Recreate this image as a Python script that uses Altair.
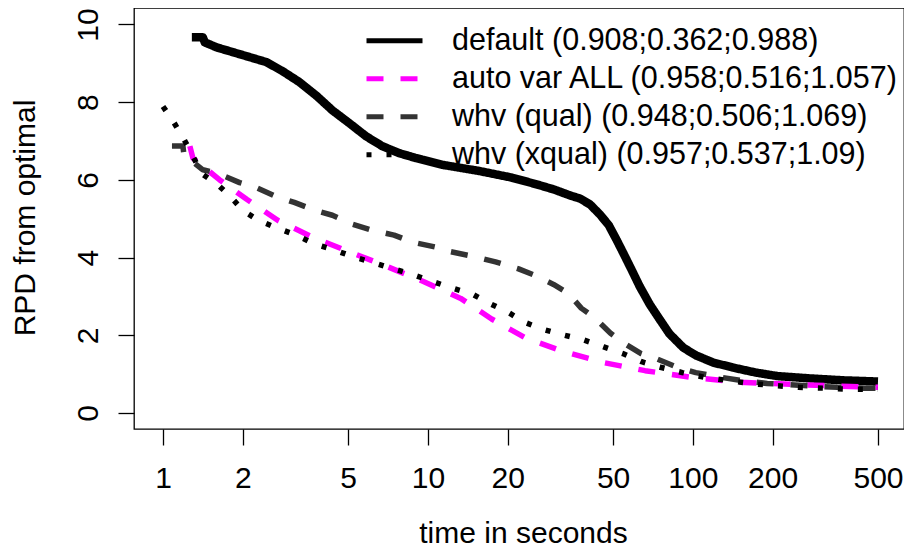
import altair as alt
import pandas as pd

series_names = [
    "default (0.908;0.362;0.988)",
    "auto var ALL (0.958;0.516;1.057)",
    "whv (qual) (0.948;0.506;1.069)",
    "whv (xqual) (0.957;0.537;1.09)",
]
series_colors = ["#000000", "#FF00FF", "#333333", "#000000"]
series_dashes = [[1, 0], [17, 17], [17, 17], [5, 15]]

default_t = [1.285, 1.414, 1.438, 1.596, 2.124, 2.46, 2.825, 3.27, 3.79, 4.36, 5.05, 5.85,
             6.72, 7.78, 9.02, 11.3, 15.6, 20.7, 25.9, 30.0, 34.4, 37.5, 40.9, 44.6, 48.2,
             51.6, 54.8, 58.7, 63.0, 68.7, 74.8, 81.6, 92.1, 103.0, 119.2, 141.6, 173.0,
             208.8, 277.7, 372.5, 500]
default_v = [9.67, 9.67, 9.54, 9.41, 9.16, 9.03, 8.80, 8.52, 8.17, 7.79, 7.46, 7.12,
             6.87, 6.69, 6.56, 6.39, 6.23, 6.06, 5.88, 5.75, 5.60, 5.52, 5.37, 5.11, 4.83,
             4.45, 4.10, 3.69, 3.26, 2.80, 2.42, 2.04, 1.68, 1.48, 1.30, 1.17, 1.04,
             0.95, 0.89, 0.84, 0.81]

auto_t = [1.263, 1.297, 1.637, 2.07, 2.71, 3.66, 5.05, 7.01, 9.66, 13.3, 17.4, 23.4,
          31.9, 45.9, 66.0, 98.3, 151, 233, 360, 500]
auto_v = [6.87, 6.56, 6.00, 5.50, 4.96, 4.53, 4.15, 3.77, 3.38, 2.95, 2.42, 1.93,
          1.60, 1.30, 1.09, 0.92, 0.79, 0.74, 0.69, 0.66]

qual_t = [1.081, 1.189, 1.20, 1.414, 1.596, 1.946, 2.254, 2.68, 3.13, 3.73, 4.36, 5.18,
          6.11, 7.45, 8.71, 10.7, 12.2, 15.1, 18.0, 22.0, 25.0, 29.8, 33.9, 37.9, 42.8,
          48.8, 54.6, 63.8, 72.6, 87.9, 102.6, 127.4, 151, 191, 288, 351, 443, 500]
qual_v = [6.87, 6.87, 6.64, 6.26, 6.18, 5.93, 5.80, 5.57, 5.42, 5.22, 5.09, 4.86,
          4.71, 4.58, 4.40, 4.27, 4.15, 4.02, 3.89, 3.71, 3.56, 3.31, 3.08, 2.70, 2.44,
          2.06, 1.81, 1.53, 1.40, 1.17, 1.04, 0.92, 0.84, 0.76, 0.69, 0.66, 0.64, 0.64]

xqual_t = [1.0, 1.099, 1.199, 1.295, 1.40, 1.607, 1.799, 1.995, 2.29, 2.70, 3.18, 3.74,
           4.41, 5.24, 6.23, 7.41, 8.80, 10.46, 12.4, 14.8, 17.1, 20.0, 23.1, 27.0, 32.4,
           38.8, 46.1, 54.4, 64.1, 76.2, 91.3, 110.4, 134.6, 164.1, 201.8, 250.5, 310.7,
           385.5, 482.6, 500]
xqual_v = [7.89, 7.48, 7.05, 6.62, 6.16, 5.88, 5.57, 5.22, 4.96, 4.76, 4.58, 4.35,
           4.20, 4.02, 3.87, 3.71, 3.56, 3.38, 3.21, 3.05, 2.82, 2.60, 2.34, 2.16, 2.01,
           1.88, 1.70, 1.53, 1.32, 1.17, 1.04, 0.92, 0.84, 0.76, 0.71, 0.66, 0.64,
           0.61, 0.61, 0.61]

x_ticks = [1, 2, 5, 10, 20, 50, 100, 200, 500]
y_ticks = [0, 2, 4, 6, 8, 10]

frames = []
for name, ts, vs in zip(series_names, [default_t, auto_t, qual_t, xqual_t],
                        [default_v, auto_v, qual_v, xqual_v]):
    frames.append(pd.DataFrame({"t": ts, "v": vs, "series": name}))
df = pd.concat(frames, ignore_index=True)

FONT = "Liberation Sans"

legend = alt.Legend(
    title=None, orient="none", legendX=230, legendY=14, direction="vertical",
    padding=0, clipHeight=37.7, rowPadding=0, symbolType="stroke", symbolSize=3136,
    symbolStrokeWidth=5, labelFontSize=30.5, labelFont=FONT, labelColor="black",
    labelOffset=27, labelLimit=600, labelBaseline="middle", symbolLimit=0,
)

base = alt.Chart(df).encode(
    x=alt.X("t:Q", scale=alt.Scale(type="log", domain=[0.7772, 626.8], nice=False),
            axis=alt.Axis(values=x_ticks, format="d", labelPadding=18, labelBaseline="top",
                          labelAlign="center", labelFlush=False, labelOverlap=False,
                          title="time in seconds", titleY=113, titleX=389,
                          titleBaseline="alphabetic", titleAlign="center")),
    y=alt.Y("v:Q", scale=alt.Scale(domain=[-0.4118, 10.4247], nice=False, zero=False),
            axis=alt.Axis(values=y_ticks, format="d", labelAngle=270, labelAlign="center",
                          labelBaseline="alphabetic", labelPadding=21, labelFlush=False,
                          labelOverlap=False, title="RPD from optimal", titleAngle=270,
                          titleX=-100, titleY=209.5, titleBaseline="alphabetic",
                          titleAlign="center")),
    color=alt.Color("series:N", scale=alt.Scale(domain=series_names, range=series_colors),
                    legend=legend),
    strokeDash=alt.StrokeDash("series:N", scale=alt.Scale(domain=series_names, range=series_dashes),
                              legend=legend),
)

widths = [8.5, 5.5, 5.5, 5.5]
layers = []
for name, w in zip(series_names, widths):
    layers.append(
        base.transform_filter(alt.datum.series == name).mark_line(strokeWidth=w, strokeJoin="round")
    )

chart = alt.layer(*layers).properties(
    width=770, height=421,
    background="white",
    autosize=alt.AutoSizeParams(type="none"),
    padding={"left": 126, "top": 0, "right": 0, "bottom": 119},
).configure_view(stroke="black", strokeWidth=1.3).configure_axis(
    domain=False, grid=False, tickColor="black", tickSize=16, tickWidth=1.3,
    labelFont=FONT, labelFontSize=30, labelColor="black",
    titleFont=FONT, titleFontSize=30, titleColor="black", titleFontWeight="normal",
)

chart.save("out.html", embed_options={"renderer": "svg", "actions": False})
